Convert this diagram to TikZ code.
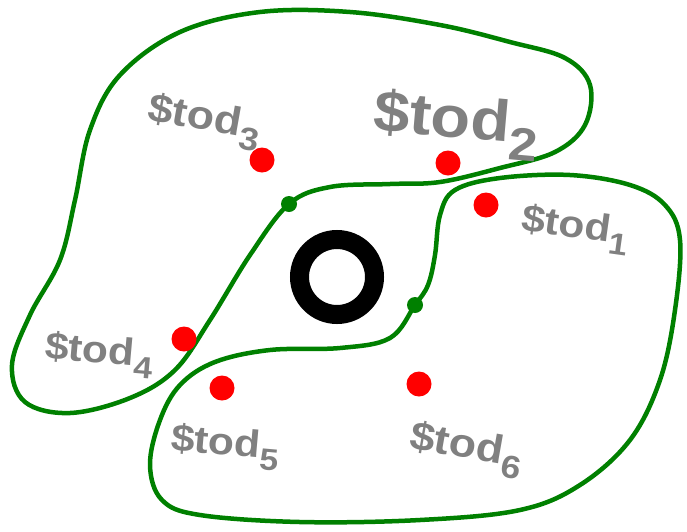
\documentclass[tikz,border=0pt]{standalone}
\usepackage{fontspec}
\setmainfont{Liberation Sans}
\usetikzlibrary{positioning}
\definecolor{inkGreen}{RGB}{0, 128, 0}
\definecolor{inkRed}{RGB}{255, 0, 0}
\definecolor{inkGray}{RGB}{128, 128, 128}
\newcommand{\stodlabel}[1]{\scalebox{1.12}[1]{\$tod\raisebox{-0.3em}{\scalebox{0.8}{#1}}}}
\tikzset{
  blob/.style={draw=inkGreen, line width=4.5pt, line join=round},
  pin/.style={circle, fill=inkRed, inner sep=0pt, minimum size=25pt},
  joint/.style={circle, fill=inkGreen, inner sep=0pt, minimum size=16pt},
  stodtext/.style={text=inkGray, font=\bfseries, anchor=base west, inner sep=0pt}
}
\begin{document}
\begin{tikzpicture}[x=1pt, y=-1pt]
  \useasboundingbox (0,0) rectangle (687,531);
  % upper-left region
  \draw[blob] plot[smooth cycle, tension=0.6] coordinates {
    (289,204) (330,187) (390,184) (440,182) (500,168) (555,152) (585,125)
    (590,85) (565,58) (510,42) (440,25) (350,12) (260,12) (180,32) (120,75)
    (90,130) (75,200) (60,260) (30,315) (12,365) (25,402) (70,413) (130,398)
    (175,370) (210,320) (250,255)};
  % lower-right region
  \draw[blob] plot[smooth cycle, tension=0.6] coordinates {
    (415,305) (390,338) (340,348) (270,350) (215,362) (180,385) (160,420)
    (150,465) (162,500) (200,515) (300,522) (420,520) (520,510) (580,485)
    (630,440) (660,380) (675,310) (680,240) (665,205) (630,185) (570,175)
    (500,178) (455,190) (440,215) (435,255) (428,285)};
  \node[joint] (jointA) at (289,204) {};
  \node[joint] (jointB) at (415,305) {};
  % centre ring
  \node[circle, draw=black, line width=19pt, minimum size=75pt, inner sep=0pt] (ring) at (337,277) {};
  % pins
  \node[pin] (pin3) at (262,160) {};
  \node[pin] (pin2) at (448,163) {};
  \node[pin] (pin1) at (486,205) {};
  \node[pin] (pin4) at (184,339) {};
  \node[pin] (pin5) at (222,388) {};
  \node[pin] (pin6) at (419,384) {};
  % labels
  \node[stodtext, font=\bfseries\fontsize{40pt}{40pt}\selectfont, rotate=-10] (lab3) at (146,120) {\stodlabel{3}};
  \node[stodtext, font=\bfseries\fontsize{58pt}{58pt}\selectfont, rotate=-5] (lab2) at (372,130) {\stodlabel{2}};
  \node[stodtext, font=\bfseries\fontsize{38pt}{38pt}\selectfont, rotate=-8] (lab1) at (520,230) {\stodlabel{1}};
  \node[stodtext, font=\bfseries\fontsize{38pt}{38pt}\selectfont, rotate=-5] (lab4) at (44,358) {\stodlabel{4}};
  \node[stodtext, font=\bfseries\fontsize{38pt}{38pt}\selectfont, rotate=-5] (lab5) at (170,450) {\stodlabel{5}};
  \node[stodtext, font=\bfseries\fontsize{40pt}{40pt}\selectfont, rotate=-10] (lab6) at (408,448) {\stodlabel{6}};
\end{tikzpicture}
\end{document}
